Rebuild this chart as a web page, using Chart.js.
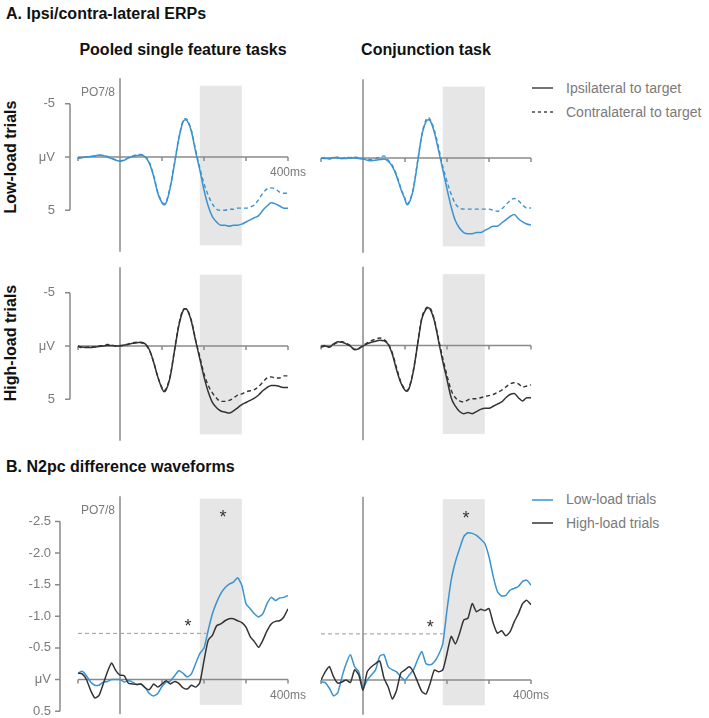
<!DOCTYPE html>
<html>
<head>
<meta charset="utf-8">
<script src="https://cdn.jsdelivr.net/npm/chart.js@4.4.1/dist/chart.umd.min.js"></script>
<style>
  body { margin: 0; background: #fff; }
  #fig { position: relative; width: 709px; height: 718px; font-family: "Liberation Sans", Arial, sans-serif; overflow: hidden; }
  #fig canvas { position: absolute; }
  .h { position: absolute; font-weight: bold; font-size: 16px; line-height: 18px; color: #111; white-space: nowrap; }
  .row { position: absolute; font-weight: bold; font-size: 16px; line-height: 18px; color: #111; white-space: nowrap;
         transform: translate(-50%, -50%) rotate(-90deg); }
  .leg { position: absolute; font-size: 14px; line-height: 16px; color: #7a7a7a; white-space: nowrap; }
  .legsvg { position: absolute; }
</style>
</head>
<body>
<div id="fig">
  <div class="h" style="left:6px; top:5px;">A. Ipsi/contra-lateral ERPs</div>
  <div class="h" style="left:183px; top:41px; transform:translateX(-50%);">Pooled single feature tasks</div>
  <div class="h" style="left:426px; top:41px; transform:translateX(-50%);">Conjunction task</div>
  <div class="row" style="left:11px; top:157px;">Low-load trials</div>
  <div class="row" style="left:11px; top:343px;">High-load trials</div>
  <div class="h" style="left:6px; top:458px;">B. N2pc difference waveforms</div>

  <svg class="legsvg" style="left:528px; top:78px;" width="30" height="44">
    <line x1="4" y1="10" x2="25" y2="10" stroke="#444" stroke-width="1.5"/>
    <line x1="4" y1="34" x2="25" y2="34" stroke="#444" stroke-width="1.5" stroke-dasharray="3,3"/>
  </svg>
  <div class="leg" style="left:566px; top:80px;">Ipsilateral to target</div>
  <div class="leg" style="left:566px; top:104px;">Contralateral to target</div>

  <svg class="legsvg" style="left:528px; top:490px;" width="30" height="44">
    <line x1="4" y1="10" x2="25" y2="10" stroke="#3a93d0" stroke-width="1.5"/>
    <line x1="4" y1="33" x2="25" y2="33" stroke="#333" stroke-width="1.5"/>
  </svg>
  <div class="leg" style="left:566px; top:491px;">Low-load trials</div>
  <div class="leg" style="left:566px; top:515px;">High-load trials</div>

  <canvas id="a1" width="310" height="200" style="left:0px; top:60px;"></canvas>
  <canvas id="a2" width="240" height="200" style="left:300px; top:60px;"></canvas>
  <canvas id="a3" width="310" height="195" style="left:0px; top:255px;"></canvas>
  <canvas id="a4" width="240" height="195" style="left:300px; top:255px;"></canvas>
  <canvas id="b1" width="310" height="233" style="left:0px; top:485px;"></canvas>
  <canvas id="b2" width="250" height="233" style="left:300px; top:485px;"></canvas>
</div>

<script>
// ---- data (ms, microvolts) ----
const timesErp = [-100, -90, -80, -70, -60, -50, -40, -30, -20, -10, 0, 10, 20, 30, 40, 50, 60, 70, 80, 90, 100, 105, 110,
  120, 130, 140, 150, 155, 160, 170, 180, 190, 200, 210, 220, 230, 240, 250, 260, 270, 280, 290, 300, 310, 320, 330,
  340, 350, 360, 370, 380, 390, 400];

// pooled single feature tasks, low load
const pooledLowIpsi = [0.15, 0.05, 0, -0.05, -0.1, -0.2, -0.15, 0, 0.15, 0.3, 0.4, 0.3, 0.1, -0.05, -0.15, -0.2, 0, 0.6, 1.8, 3.4, 4.3, 4.5, 4.3,
  2.8, 0.6, -1.7, -3.3, -3.5, -3.4, -2.4, -0.5, 1.2, 3.1, 4.6, 5.6, 6.1, 6.4, 6.4, 6.5, 6.4, 6.4, 6.3, 6.1, 5.9, 5.7, 5.5,
  5.0, 4.6, 4.3, 4.4, 4.6, 4.8, 4.8];
const pooledLowContra = [0.1, 0.05, 0, -0.05, -0.1, -0.15, -0.15, -0.05, 0.1, 0.25, 0.35, 0.25, 0.05, -0.1, -0.2, -0.25, -0.05, 0.5, 1.7, 3.3, 4.2, 4.4, 4.2,
  2.7, 0.5, -1.8, -3.4, -3.6, -3.5, -2.5, -0.7, 1.0, 2.5, 3.6, 4.4, 4.9, 5.0, 5.0, 4.9, 4.9, 4.8, 4.8, 4.8, 4.7, 4.5, 4.0,
  3.4, 3.0, 2.9, 3.0, 3.3, 3.4, 3.4];

// conjunction task, low load
const conjLowIpsi = [0, 0.05, 0.05, -0.05, 0, 0.05, 0.05, -0.05, 0, 0.05, 0.1, 0.2, 0.25, 0.2, 0.15, 0.1, 0.3, 0.8, 1.7, 2.9, 3.9, 4.4, 4.2,
  2.9, 0.4, -2.1, -3.4, -3.6, -3.5, -2.4, -0.7, 1.1, 2.9, 4.6, 5.9, 6.6, 7.0, 7.1, 7.1, 7.0, 7.0, 6.8, 6.6, 6.4, 6.4, 6.1,
  5.8, 5.5, 5.3, 5.7, 6.0, 6.2, 6.3];
const conjLowContra = [0.05, -0.05, 0.1, 0, -0.1, 0.05, -0.1, 0, -0.1, 0, 0.05, 0.1, 0.15, 0.05, -0.1, -0.2, 0.2, 0.7, 1.6, 2.8, 3.8, 4.3, 4.1,
  2.8, 0.3, -2.2, -3.6, -3.8, -3.6, -2.6, -1.0, 0.8, 2.2, 3.4, 4.3, 4.7, 4.8, 4.8, 4.8, 4.8, 4.8, 4.8, 4.8, 4.9, 5.0, 4.8,
  4.4, 4.0, 3.8, 4.0, 4.4, 4.7, 4.7];

// pooled single feature tasks, high load
const pooledHighIpsi = [0, 0.1, 0.15, 0.15, 0.1, 0.05, 0, -0.05, -0.05, 0, 0, -0.1, -0.15, -0.25, -0.3, -0.35, -0.2, 0.35, 1.5, 2.9, 4.0, 4.3, 4.1,
  2.8, 0.4, -1.9, -3.3, -3.5, -3.4, -2.3, -0.5, 1.2, 2.9, 4.3, 5.3, 5.8, 6.1, 6.2, 6.3, 6.1, 5.8, 5.5, 5.3, 5.1, 4.9, 4.6,
  4.2, 3.9, 3.7, 3.7, 3.8, 3.9, 3.9];
const pooledHighContra = [0.05, 0.15, 0.1, 0.05, 0.1, 0, -0.05, -0.15, -0.1, 0, -0.05, -0.1, -0.2, -0.3, -0.35, -0.3, -0.15, 0.4, 1.5, 2.9, 3.9, 4.2, 4.0,
  2.7, 0.3, -2.0, -3.4, -3.5, -3.4, -2.4, -0.6, 1.0, 2.6, 3.7, 4.4, 4.9, 5.2, 5.2, 5.1, 4.9, 4.6, 4.5, 4.3, 4.2, 4.1, 3.8,
  3.4, 3.0, 2.9, 3.0, 3.0, 2.8, 2.8];

// conjunction task, high load
const conjHighIpsi = [0.15, 0.05, 0.15, -0.15, -0.35, -0.3, -0.15, 0.05, 0.4, 0.3, 0.05, -0.15, -0.3, -0.4, -0.5, -0.45, -0.1, 0.85, 2.3, 3.5, 4.2, 4.3, 4.0,
  2.4, -0.1, -2.5, -3.4, -3.55, -3.4, -2.3, -0.4, 1.5, 3.2, 4.9, 5.7, 6.2, 6.4, 6.3, 6.4, 6.2, 6.0, 5.9, 5.9, 5.7, 5.5, 5.3,
  4.9, 4.6, 4.5, 4.9, 5.2, 4.9, 4.9];
const conjHighContra = [0.1, 0, 0.15, -0.1, -0.3, -0.35, -0.2, 0, 0.35, 0.25, 0, -0.25, -0.45, -0.6, -0.7, -0.55, -0.15, 0.7, 2.1, 3.4, 4.1, 4.2, 3.9,
  2.3, -0.2, -2.6, -3.5, -3.6, -3.5, -2.4, -0.6, 1.2, 2.8, 4.2, 4.9, 5.2, 5.3, 5.1, 5.0, 5.0, 4.9, 4.8, 4.7, 4.6, 4.4, 4.2,
  3.9, 3.6, 3.5, 3.6, 3.9, 3.8, 3.7];

// N2pc difference waves (contra - ipsi)
const timesDiff = [-100, -90, -80, -70, -60, -50, -40, -30, -20, -10, 0, 10, 20, 30, 40, 50, 60, 70, 80, 90, 100, 110, 120,
  130, 140, 150, 160, 170, 180, 190, 200, 210, 220, 230, 240, 250, 260, 270, 280, 290, 300, 310, 320, 330, 340, 350,
  360, 370, 380, 390, 400];
const pooledDiffLow = [-0.10, -0.13, -0.06, 0.04, 0.09, 0.09, 0.04, 0.03, 0, 0, 0, 0.04, 0.02, 0.04, 0.08, 0.07, 0.13, 0.22, 0.26, 0.22, 0.11, 0.04, 0.02,
  -0.06, -0.14, -0.1, -0.04, -0.09, -0.25, -0.41, -0.5, -0.78, -1.04, -1.22, -1.36, -1.45, -1.51, -1.54, -1.61, -1.49, -1.2, -1.12, -1.04, -0.99, -1.04, -1.2,
  -1.3, -1.25, -1.29, -1.3, -1.33];
const pooledDiffHigh = [-0.1, -0.09, 0, 0.17, 0.29, 0.25, 0.07, -0.12, -0.26, -0.14, -0.07, -0.06, 0.06, 0.07, 0.08, 0.07, 0.13, 0.16, 0.07, 0.12, 0.07, 0.02, 0.07,
  0.03, 0.06, 0.13, 0.15, 0.09, 0.12, 0.05, -0.3, -0.62, -0.7, -0.85, -0.88, -0.93, -0.96, -0.96, -0.93, -0.9, -0.83, -0.68, -0.6, -0.51, -0.62, -0.77,
  -0.88, -0.92, -0.93, -0.99, -1.12];
const conjDiffLow = [0.03, 0.04, 0.13, 0.25, 0.2, -0.05, -0.26, -0.4, -0.21, -0.13, 0.13, 0, -0.08, -0.16, -0.38, -0.4, -0.21, -0.16, -0.13, -0.05, 0, -0.08, -0.16,
  -0.32, -0.45, -0.26, -0.24, -0.29, -0.4, -0.58, -1.11, -1.58, -1.87, -2.08, -2.27, -2.33, -2.32, -2.29, -2.23, -2.16, -1.95, -1.64, -1.4, -1.33, -1.34, -1.42,
  -1.45, -1.48, -1.56, -1.58, -1.5];
const conjDiffHigh = [0, -0.13, -0.21, -0.05, 0.05, 0.03, 0, 0.04, -0.16, -0.08, 0.16, -0.13, -0.21, -0.26, -0.3, -0.03, 0.11, 0.3, 0.16, -0.11, -0.16, -0.21, -0.13,
  0.03, 0.18, 0.22, 0.05, -0.16, -0.13, -0.16, -0.42, -0.69, -0.57, -0.74, -0.95, -0.98, -1.21, -1.08, -1.12, -1.1, -1.13, -0.9, -0.74, -0.78, -0.7, -0.76,
  -0.92, -1.05, -1.21, -1.26, -1.19];

// onset threshold lines and significance marks
const pooledThreshold = { t: [-100, 205], v: [-0.73, -0.73] };
const conjThreshold = { t: [-100, 190], v: [-0.73, -0.73] };
const pooledMarks = [[245, -2.63], [162, -0.91]];
const conjMarks = [[245, -2.63], [160, -0.91]];

// axes
const timeTicks = [-100, 100, 200, 300, 400];
const erpTicks = [-5, 0, 5];
const erpTickLabels = ['-5', 'μV', '5'];
const diffTicks = [-2.5, -2.0, -1.5, -1.0, -0.5, 0, 0.5];
const diffTickLabels = ['-2.5', '-2.0', '-1.5', '-1.0', '-0.5', 'μV', '0.5'];
const n2pcWindow = [190, 290];

const blue = '#3a93d0';
const dark = '#333333';
const axisGrey = '#8a8a8a';
const labelGrey = '#7a7a7a';
const FONT = '"Liberation Sans", Arial, sans-serif';

const pts = (times, vals) => times.map((t, i) => ({ x: t, y: vals[i] }));

// draws the shaded window, zero lines, bracket axis and labels
function decorPlugin(cfg) {
  return {
    id: 'decor',
    beforeDatasetsDraw(chart) {
      const { ctx, chartArea } = chart;
      const x = chart.scales.x, y = chart.scales.y;
      ctx.save();
      // N2pc window
      const sx0 = x.getPixelForValue(n2pcWindow[0]), sx1 = x.getPixelForValue(n2pcWindow[1]);
      const sy0 = y.getPixelForValue(cfg.shade[0]), sy1 = y.getPixelForValue(cfg.shade[1]);
      ctx.fillStyle = '#e6e6e6';
      ctx.fillRect(sx0, sy0, sx1 - sx0, sy1 - sy0);

      ctx.strokeStyle = axisGrey;
      ctx.lineWidth = 1.5;
      // time axis at 0 uV
      const yz = y.getPixelForValue(0);
      ctx.beginPath();
      ctx.moveTo(x.getPixelForValue(-100), yz);
      ctx.lineTo(x.getPixelForValue(400), yz);
      timeTicks.forEach(t => {
        const px = x.getPixelForValue(t);
        ctx.moveTo(px, yz);
        ctx.lineTo(px, yz + 4);
      });
      // stimulus onset
      const x0 = x.getPixelForValue(0);
      ctx.moveTo(x0, chartArea.top);
      ctx.lineTo(x0, chartArea.bottom);
      ctx.stroke();

      // bracket style y axis
      if (cfg.bracket) {
        const b = cfg.bracket;
        const bx = chartArea.left - b.gap;
        ctx.beginPath();
        ctx.moveTo(bx, y.getPixelForValue(b.ticks[0]));
        ctx.lineTo(bx, y.getPixelForValue(b.ticks[b.ticks.length - 1]));
        b.ticks.forEach(v => {
          const py = y.getPixelForValue(v);
          ctx.moveTo(bx, py);
          ctx.lineTo(bx - 5, py);
        });
        ctx.stroke();
        ctx.fillStyle = labelGrey;
        ctx.font = '13px ' + FONT;
        ctx.textAlign = 'right';
        ctx.textBaseline = 'middle';
        b.ticks.forEach((v, i) => ctx.fillText(b.labels[i], bx - b.labelGap, y.getPixelForValue(v)));
      }
      ctx.restore();
    },
    afterDatasetsDraw(chart) {
      const { ctx, chartArea } = chart;
      const x = chart.scales.x, y = chart.scales.y;
      ctx.save();
      ctx.fillStyle = labelGrey;
      ctx.font = '12px ' + FONT;
      ctx.textBaseline = 'middle';
      if (cfg.electrode) {
        ctx.textAlign = 'right';
        ctx.fillText('PO7/8', x.getPixelForValue(0) - 5, chartArea.top + 14);
      }
      if (cfg.msLabel) {
        ctx.textAlign = 'center';
        ctx.fillText('400ms', x.getPixelForValue(400), y.getPixelForValue(0) + 16);
      }
      if (cfg.marks) {
        ctx.fillStyle = dark;
        ctx.font = '18px ' + FONT;
        ctx.textAlign = 'center';
        ctx.textBaseline = 'alphabetic';
        cfg.marks.forEach(m => ctx.fillText('*', x.getPixelForValue(m[0]), y.getPixelForValue(m[1]) + 10));
      }
      ctx.restore();
    }
  };
}

function makeChart(id, padding, yRange, datasets, cfg) {
  return new Chart(document.getElementById(id), {
    type: 'line',
    data: { datasets: datasets },
    options: {
      responsive: false,
      animation: false,
      layout: { padding: padding },
      elements: { point: { radius: 0 } },
      plugins: { legend: { display: false }, tooltip: { enabled: false } },
      scales: {
        x: { type: 'linear', min: -100, max: 400, display: false },
        y: { type: 'linear', min: yRange[0], max: yRange[1], reverse: true, display: false }
      }
    },
    plugins: [decorPlugin(cfg)]
  });
}

function erpSets(ipsi, contra, color) {
  return [
    { data: pts(timesErp, contra), borderColor: color, borderWidth: 1.4, borderDash: [4, 3], cubicInterpolationMode: 'monotone' },
    { data: pts(timesErp, ipsi), borderColor: color, borderWidth: 1.5, cubicInterpolationMode: 'monotone' }
  ];
}

function diffSets(low, high, threshold) {
  return [
    { data: pts(threshold.t, threshold.v), borderColor: '#999', borderWidth: 1, borderDash: [4, 3] },
    { data: pts(timesDiff, high), borderColor: dark, borderWidth: 1.5, tension: 0.2 },
    { data: pts(timesDiff, low), borderColor: blue, borderWidth: 1.5, tension: 0.2 }
  ];
}

const erpRange = [-7.4, 8.9];
const erpShade = [-6.7, 8.3];
const diffRange = [-2.9, 0.55];
const diffShade = [-2.86, 0.4];

makeChart('a1', { left: 78, right: 22, top: 18.2, bottom: 8.2 }, erpRange,
  erpSets(pooledLowIpsi, pooledLowContra, blue),
  { shade: erpShade, electrode: true, msLabel: true,
    bracket: { gap: 8, labelGap: 15, ticks: erpTicks, labels: erpTickLabels } });

makeChart('a2', { left: 21, right: 9, top: 19.2, bottom: 7.2 }, erpRange,
  erpSets(conjLowIpsi, conjLowContra, blue),
  { shade: erpShade });

makeChart('a3', { left: 78, right: 22, top: 12.2, bottom: 9.2 }, erpRange,
  erpSets(pooledHighIpsi, pooledHighContra, dark),
  { shade: erpShade,
    bracket: { gap: 8, labelGap: 15, ticks: erpTicks, labels: erpTickLabels } });

makeChart('a4', { left: 21, right: 9, top: 11.7, bottom: 9.7 }, erpRange,
  erpSets(conjHighIpsi, conjHighContra, dark),
  { shade: erpShade });

makeChart('b1', { left: 78, right: 22, top: 11.2, bottom: 3.7 }, diffRange,
  diffSets(pooledDiffLow, pooledDiffHigh, pooledThreshold),
  { shade: diffShade, electrode: true, msLabel: true, marks: pooledMarks,
    bracket: { gap: 18, labelGap: 9, ticks: diffTicks, labels: diffTickLabels } });

makeChart('b2', { left: 21, right: 19, top: 11.7, bottom: 3.2 }, diffRange,
  diffSets(conjDiffLow, conjDiffHigh, conjThreshold),
  { shade: diffShade, msLabel: true, marks: conjMarks });
</script>
</body>
</html>
